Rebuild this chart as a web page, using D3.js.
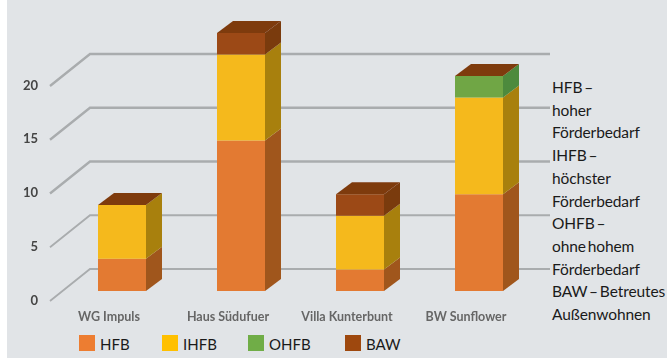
<!DOCTYPE html>
<html>
<head>
<meta charset="utf-8">
<script src="https://cdn.jsdelivr.net/npm/d3@7"></script>
<style>
  html, body { margin: 0; padding: 0; background: #fff; }
  svg { display: block; }
  text { font-family: Lato, sans-serif; }
</style>
</head>
<body>
<div id="chart"></div>
<script>
const categories = ["WG Impuls", "Haus Südufuer", "Villa Kunterbunt", "BW Sunflower"];
const seriesNames = ["HFB", "IHFB", "OHFB", "BAW"];
const hfb = [3, 14, 2, 9];
const ihfb = [5, 8, 5, 9];
const ohfb = [0, 0, 0, 2];
const baw = [0, 2, 2, 0];
const yTicks = [0, 5, 10, 15, 20];
const notes = [
  "HFB –", "hoher", "Förderbedarf",
  "IHFB –", "höchster", "Förderbedarf",
  "OHFB –", "ohne hohem", "Förderbedarf",
  "BAW – Betreutes", "Außenwohnen"
];

const WIDTH = 667, HEIGHT = 358;

// fake 3d: the bars stand in front of the back wall
const DEPTH_X = 16, DEPTH_Y = 12;
const FLOOR_DROP = 22;   // front edge of a bar sits this far under the wall's zero line
const AXIS_DX = 40, AXIS_DY = 32;

const frontColor = d3.scaleOrdinal(seriesNames, ["#e37a30", "#f5b91a", "#6fa644", "#9c4a12"]);
const sideColor = d3.scaleOrdinal(seriesNames, ["#a0561f", "#a8800f", "#4e8a3c", "#7a3a0c"]);
const legendColor = d3.scaleOrdinal(seriesNames, ["#ed7d31", "#ffc000", "#70ad47", "#9e480e"]);
const TOP_COLOR = "#7e3a0c";

const rows = categories.map((name, i) => ({
  name, HFB: hfb[i], IHFB: ihfb[i], OHFB: ohfb[i], BAW: baw[i]
}));
const stacked = d3.stack().keys(seriesNames)(rows);

const x = d3.scaleBand()
  .domain(categories)
  .range([98, 503])
  .paddingInner(1 - 48 / 119)
  .paddingOuter(0);

// wall scale, zero line at the back
const y = d3.scaleLinear().domain([0, 20]).range([269, 54]);
const yFront = v => y(v) + FLOOR_DROP;

const svg = d3.select("#chart").append("svg")
  .attr("width", WIDTH)
  .attr("height", HEIGHT);

const defs = svg.append("defs");
defs.append("filter").attr("id", "soft")
  .append("feGaussianBlur").attr("stdDeviation", 0.5);

svg.append("rect")
  .attr("x", 7).attr("y", 0)
  .attr("width", WIDTH - 7).attr("height", HEIGHT)
  .attr("fill", "#e1e4e7");

const plot = svg.append("g").attr("filter", "url(#soft)");

// back wall lines with their slanted floor part
const wallLeft = 90, wallRight = 550;
plot.append("g").selectAll("path")
  .data(yTicks)
  .join("path")
  .attr("fill", "none")
  .attr("stroke", "#a9acae")
  .attr("stroke-width", d => d >= 10 ? 2.4 : 1.8)
  .attr("d", d => d3.line()([
    [wallLeft - AXIS_DX, y(d) + AXIS_DY],
    [wallLeft, y(d)],
    [wallRight, y(d)]
  ]));

// value labels
plot.append("g").selectAll("text")
  .data(yTicks)
  .join("text")
  .attr("x", 38)
  .attr("y", d => y(d) + AXIS_DY - 1)
  .attr("dy", "0.36em")
  .attr("text-anchor", "end")
  .attr("font-size", 13)
  .attr("font-weight", 700)
  .attr("fill", "#444")
  .text(d => d);

// bars, one box per stacked segment
const bars = plot.append("g");
stacked.forEach(layer => {
  layer.forEach((seg, i) => {
    if (seg[1] === seg[0]) return;
    const left = x(categories[i]);
    const right = left + x.bandwidth();
    const top = yFront(seg[1]);
    const bottom = yFront(seg[0]);
    bars.append("path")
      .attr("fill", sideColor(layer.key))
      .attr("d", d3.line()([
        [right, bottom], [right + DEPTH_X, bottom - DEPTH_Y],
        [right + DEPTH_X, top - DEPTH_Y], [right, top]
      ]) + "Z");
    bars.append("rect")
      .attr("x", left).attr("y", top)
      .attr("width", x.bandwidth()).attr("height", bottom - top)
      .attr("fill", frontColor(layer.key));
  });
});

// lid on each bar
bars.selectAll(".lid")
  .data(rows)
  .join("path")
  .attr("class", "lid")
  .attr("fill", TOP_COLOR)
  .attr("d", d => {
    const top = yFront(d.HFB + d.IHFB + d.OHFB + d.BAW);
    const left = x(d.name);
    const right = left + x.bandwidth();
    return d3.line()([
      [left, top], [right, top],
      [right + DEPTH_X, top - DEPTH_Y], [left + DEPTH_X, top - DEPTH_Y]
    ]) + "Z";
  });

// category names sit a little left of the bar centres
plot.append("g").selectAll("text")
  .data(categories)
  .join("text")
  .attr("x", d => x(d) + x.bandwidth() / 2 - 13)
  .attr("y", 321)
  .attr("text-anchor", "middle")
  .attr("font-size", 12.5)
  .attr("font-weight", 700)
  .attr("fill", "#666")
  .text(d => d);

// legend
const legendX = [79, 162, 248, 345];
const legend = svg.append("g").selectAll("g")
  .data(seriesNames)
  .join("g")
  .attr("transform", (d, i) => `translate(${legendX[i]},335)`);
legend.append("rect")
  .attr("width", 16).attr("height", 16)
  .attr("fill", d => legendColor(d));
legend.append("text")
  .attr("x", 21).attr("y", 15)
  .attr("font-size", 15)
  .attr("fill", "#1a1a1a")
  .text(d => d);

// explanation column on the right, squeezed so the long line stays inside
svg.append("g").selectAll("text")
  .data(notes)
  .join("text")
  .attr("x", 552)
  .attr("y", (d, i) => 93 + i * 22.7)
  .attr("font-size", 15.5)
  .attr("word-spacing", -2)
  .attr("letter-spacing", -0.1)
  .attr("fill", "#1a1a1a")
  .text(d => d);
</script>
</body>
</html>
